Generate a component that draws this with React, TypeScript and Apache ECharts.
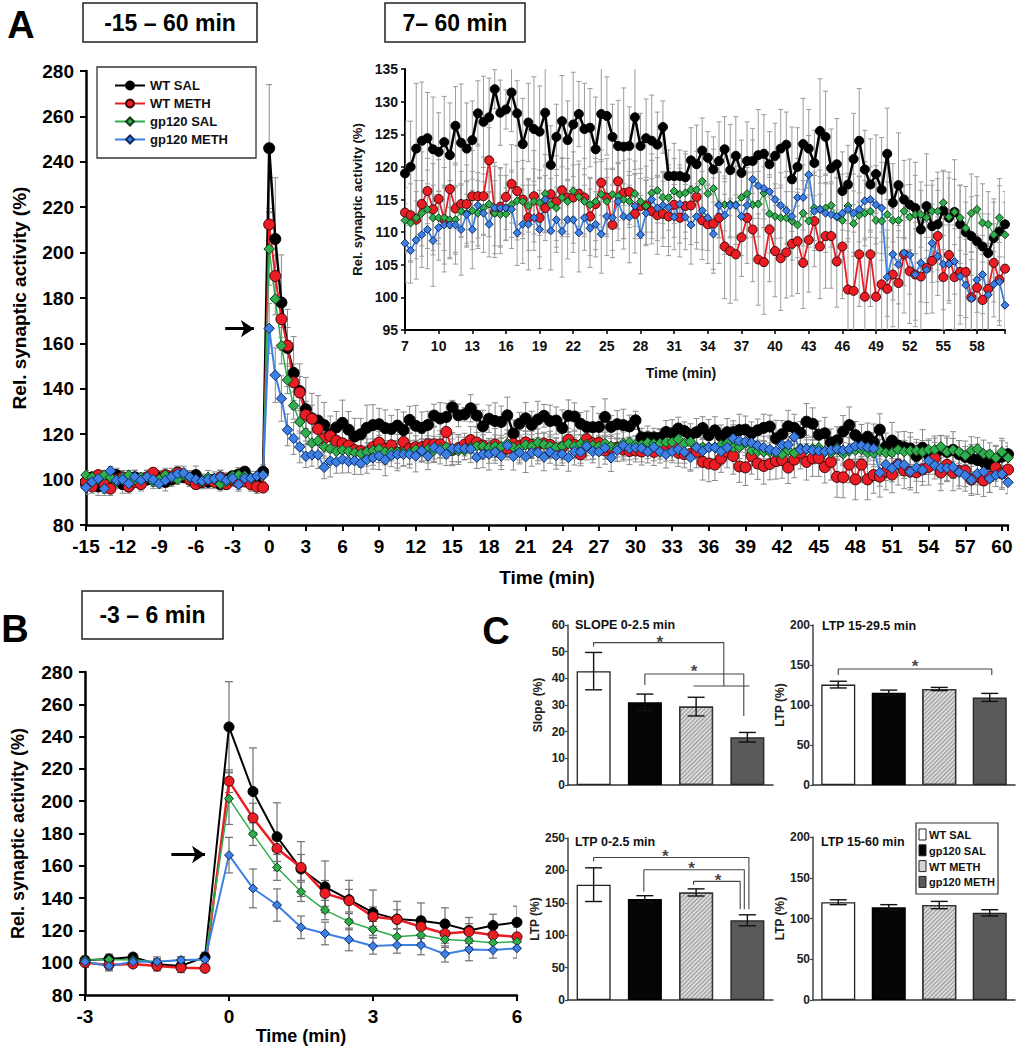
import React, { useEffect, useRef } from 'react';
import * as echarts from 'echarts';

const FONT = "'Liberation Sans', Arial, Helvetica, sans-serif";

// sampling grid: every 0.5 min from -15 to 60.5
const TIMES = Array.from({ length: 152 }, (_, i) => -15 + i * 0.5);

const GROUPS = ['WT SAL', 'WT METH', 'gp120 SAL', 'gp120 METH'];

const WT_SAL = [
  98, 101, 97, 99, 100, 102, 98, 97, 101, 99,
  100, 102, 101, 99, 100, 103, 101, 100, 102, 99,
  99, 100, 98, 100, 101.5, 102.3, 103.5, 99, 98, 103.5,
  246, 206, 178, 158, 147, 139, 131, 127, 126, 124,
  120, 123, 125, 122, 119, 120, 122.8, 124, 124.4, 122.7,
  122.3, 123.8, 121.8, 126.3, 123.7, 122.8, 124.1, 128.2, 126.9, 127.6,
  131.9, 128.3, 128.8, 131.4, 128.2, 123.5, 126.8, 125.8, 125.4, 128.3,
  120.3, 124.6, 127, 124.1, 126.5, 128.1, 125.8, 126, 122.7, 128.1,
  127.8, 124.6, 123.2, 123.1, 123.2, 127.6, 123.2, 124.4, 124, 123.4,
  126.1, 118.6, 118.6, 118.6, 118.4, 121, 120.4, 122.5, 121.4, 119.6,
  120.9, 122.7, 119.5, 121.7, 119.1, 120.9, 120.9, 121.8, 122, 120.4,
  121.7, 122.8, 123.4, 118.1, 120, 123.5, 122.8, 120.6, 125.5, 124.6,
  119.8, 120.4, 116.3, 117.3, 121.2, 124, 119.6, 117.3, 118.9, 116.5,
  122, 114.5, 117.2, 115, 114.2, 113.7, 110.4, 114, 110.9, 111.2,
  113.3, 112.2, 113.1, 111.2, 110, 109.4, 108.6, 107.8, 106.8, 109.1,
  110.1, 111.2,
];
const WT_METH = [
  99, 97, 102, 98, 96, 100, 101, 97, 99, 98,
  101, 103, 100, 102, 101, 103, 102, 100, 98, 99,
  100, 99, 101, 98, 100, 98.6, 99.2, 97.9, 96.9, 96.5,
  212.4, 189.7, 170.7, 159, 142.9, 138.4, 128.5, 126.8, 122.3, 118.1,
  119.2, 117.1, 116, 115, 113, 112.6, 111.9, 114.3, 116.3, 113.5,
  115.1, 111.9, 116.6, 113.6, 114.3, 114.3, 115.5, 115.5, 115.5, 121,
  113.1, 113.9, 115.4, 117.4, 116.3, 115, 112.2, 115.5, 112.2, 113.7,
  115.8, 114.7, 116.4, 115.3, 115.3, 115.9, 115.3, 112.4, 114.3, 117.6,
  115.3, 111.1, 117.8, 116, 116.2, 112.8, 114, 114.1, 113.2, 112.6,
  112.8, 112.4, 114.2, 112.2, 114, 114.1, 115.4, 111.8, 111.2, 111.3,
  112.2, 107.8, 107.1, 106.6, 109.2, 112.2, 110.4, 105.8, 105.4, 110.4,
  107.1, 106, 106.9, 108.2, 108.6, 105.3, 108.8, 111.7, 107.8, 109.4,
  109.4, 105.5, 107.8, 101.2, 101, 106.6, 100.1, 106.6, 100.1, 102,
  101.3, 103.5, 102.2, 106.6, 104, 103.5, 103.2, 104.5, 105.6, 109.4,
  103.1, 106.5, 103.1, 103.9, 103.9, 100, 101.5, 99.6, 101.3, 105.3,
  102.7, 104.4,
];
const GP120_SAL = [
  102, 101, 100, 102, 101, 99, 101, 102, 100, 101,
  101, 99, 100, 102, 101, 100, 102, 101, 100, 99,
  101, 100, 98, 99, 101.6, 102, 101.6, 100.6, 101.6, 102,
  201.6, 179.6, 159, 143.9, 132.6, 125.4, 120.6, 116.1, 117.1, 114.4,
  113.6, 112.4, 113, 112.5, 111.8, 111.4, 112.2, 112.9, 113.5, 112.2,
  112.2, 112.2, 111.9, 111.9, 113.2, 112.9, 113.3, 112.9, 113.7, 114.3,
  112.9, 112.7, 112.8, 114.2, 114.8, 114.7, 114, 114.7, 114.5, 115.9,
  114.2, 113.7, 115.3, 114.7, 116.3, 115.4, 114.7, 114.2, 114.7, 115.8,
  114.7, 115.8, 115.5, 115, 114.7, 115.9, 114.7, 114, 116, 116.4,
  115.3, 115.3, 116.3, 115.8, 116, 116.5, 116.5, 117.8, 115.9, 116.7,
  114.2, 114.2, 114.3, 114.2, 115.3, 115.9, 114.2, 114.3, 116, 112.8,
  112.4, 112.2, 112.2, 111.7, 111.1, 112.9, 111.7, 113.7, 113.5, 113.7,
  114.1, 112.3, 111.8, 114, 111.3, 112.6, 112.9, 113.2, 111.8, 111.7,
  112.7, 111.8, 111.8, 113.2, 112.3, 112.7, 112.7, 112.2, 113.2, 113.2,
  114.5, 112.3, 113.1, 112.2, 110.6, 112.9, 113.5, 111.4, 111.2, 109.6,
  112.2, 109.6,
];
const GP120_METH = [
  96.5, 99, 100.4, 96, 103.8, 99.7, 100, 98.2, 101.2, 99.7,
  101.2, 100, 98.2, 99.7, 101.2, 102.6, 102.9, 101.2, 100, 99.4,
  100, 100.4, 101.2, 99.7, 100.6, 97.9, 100.6, 100.6, 101.6, 102,
  166.6, 146, 135.7, 121.9, 118.1, 114.4, 110.3, 110.9, 110.9, 105.4,
  108.2, 107.8, 108.9, 108, 108.3, 107.2, 108.8, 109.6, 110.4, 108.7,
  110.7, 111.1, 111.1, 111.1, 110.4, 112.7, 110.4, 114.1, 112.9, 111.2,
  113.7, 113.7, 113.7, 113.5, 109.9, 111.2, 111.2, 112.2, 110.4, 115,
  110.2, 111.9, 110.1, 111.9, 111.9, 109.9, 112.2, 110.6, 111.2, 109.7,
  112.4, 112.2, 114.7, 112.4, 112.3, 114, 109.6, 112.9, 115, 113.7,
  114.1, 113.8, 112.3, 114.3, 112.3, 111.1, 112.4, 113.3, 112.2, 109.7,
  114.1, 112.6, 114.1, 114.1, 112.4, 114.1, 118.1, 117.1, 116.7, 116.2,
  115, 114.1, 113.3, 112.4, 115.3, 115.3, 118.8, 113.2, 113.5, 112.9,
  112.7, 112.4, 112.9, 113.5, 112.9, 113.5, 114.8, 115, 114.2, 113.7,
  103.1, 106.6, 105, 106.8, 106.5, 103.5, 105.3, 104.2, 108.3, 106.3,
  105.1, 105.1, 105.5, 103.2, 101.9, 99.8, 102.7, 103.5, 100.4, 102,
  102.4, 98.8,
];

const WT_SAL_SEM = [
  3, 2, 4, 3, 2, 3, 4, 2, 3, 3,
  2, 3, 3, 4, 2, 3, 2, 3, 4, 3,
  3, 2, 3, 3, 2, 3, 2, 3, 3, 3,
  28, 27, 21, 17, 16, 12, 14, 11, 11, 10,
  8, 7, 10, 8, 8, 7, 10, 9, 7, 8,
  6, 7, 8, 6, 9, 7, 6, 5, 7, 6,
  3, 5, 3, 6, 5, 7, 6, 8, 7, 8,
  6, 5, 7, 6, 8, 5, 7, 6, 8, 7,
  6, 5, 7, 9, 6, 8, 5, 6, 7, 5,
  4, 4, 5, 4, 4, 5, 6, 5, 4, 5,
  6, 5, 7, 6, 5, 6, 5, 7, 6, 5,
  5, 6, 5, 8, 6, 7, 6, 5, 8, 7,
  6, 7, 6, 6, 7, 8, 6, 7, 6, 8,
  7, 6, 8, 6, 7, 7, 6, 8, 7, 7,
  6, 7, 8, 6, 7, 6, 7, 5, 6, 6,
  7, 5,
];
const WT_METH_SEM = [
  3, 3, 2, 4, 3, 2, 3, 3, 2, 3,
  3, 2, 3, 3, 4, 2, 3, 3, 2, 3,
  2, 3, 3, 2, 3, 3, 2, 3, 3, 2,
  7, 9, 8, 8, 8, 7, 6, 6, 6, 6,
  5, 5, 6, 5, 6, 7, 6, 8, 5, 7,
  6, 8, 6, 7, 5, 6, 7, 8, 6, 5,
  7, 6, 5, 6, 7, 6, 5, 7, 6, 5,
  6, 7, 5, 6, 7, 5, 6, 6, 7, 5,
  6, 5, 6, 7, 5, 6, 5, 6, 5, 6,
  5, 6, 5, 6, 5, 6, 7, 6, 6, 7,
  7, 8, 8, 7, 6, 7, 8, 7, 8, 8,
  7, 8, 7, 8, 8, 7, 8, 7, 8, 8,
  8, 7, 8, 9, 9, 8, 9, 8, 9, 8,
  9, 8, 8, 9, 8, 8, 9, 7, 8, 7,
  8, 7, 8, 8, 7, 7, 8, 7, 7, 6,
  7, 6,
];
const GP120_SAL_SEM = [
  2, 2, 3, 2, 2, 3, 2, 2, 3, 2,
  2, 3, 2, 2, 3, 2, 2, 3, 2, 2,
  3, 2, 2, 3, 2, 2, 3, 2, 2, 3,
  16, 7, 8, 6, 6, 5, 5, 5, 5, 5,
  4, 4, 5, 4, 5, 6, 4, 5, 6, 5,
  4, 5, 6, 5, 4, 5, 6, 5, 4, 5,
  5, 6, 4, 5, 6, 5, 4, 5, 5, 6,
  4, 5, 6, 5, 4, 5, 5, 4, 6, 5,
  5, 4, 5, 6, 4, 5, 5, 4, 6, 5,
  4, 5, 5, 4, 6, 5, 4, 5, 5, 6,
  5, 4, 5, 5, 6, 4, 5, 5, 4, 6,
  5, 5, 4, 6, 5, 5, 4, 5, 6, 5,
  5, 6, 4, 5, 5, 6, 5, 4, 5, 6,
  5, 5, 6, 4, 5, 6, 5, 5, 4, 6,
  5, 6, 5, 5, 4, 6, 5, 6, 5, 5,
  6, 5,
];
const GP120_METH_SEM = [
  3, 2, 3, 3, 2, 3, 2, 3, 3, 2,
  3, 3, 2, 3, 2, 3, 3, 2, 3, 3,
  2, 3, 3, 2, 3, 3, 2, 3, 2, 3,
  11, 12, 10, 7, 7, 7, 5, 5, 6, 5,
  7, 5, 6, 5, 6, 5, 6, 5, 6, 7,
  5, 6, 5, 6, 7, 5, 6, 5, 6, 5,
  7, 6, 5, 6, 5, 6, 7, 5, 6, 5,
  6, 5, 7, 6, 5, 6, 5, 6, 5, 6,
  6, 5, 6, 5, 7, 5, 6, 5, 6, 5,
  5, 6, 5, 6, 5, 6, 5, 6, 5, 6,
  5, 6, 5, 6, 6, 5, 6, 5, 6, 5,
  6, 5, 6, 5, 6, 5, 6, 6, 5, 6,
  5, 6, 6, 5, 6, 5, 6, 5, 6, 7,
  6, 7, 6, 5, 6, 7, 6, 5, 6, 6,
  7, 6, 5, 6, 7, 6, 5, 6, 6, 5,
  6, 5,
];

const MEANS = [WT_SAL, WT_METH, GP120_SAL, GP120_METH];
const SEMS = [WT_SAL_SEM, WT_METH_SEM, GP120_SAL_SEM, GP120_METH_SEM];

// Panel C (bar order: WT SAL, gp120 SAL, WT METH, gp120 METH)
const BAR_GROUPS = ['WT SAL', 'gp120 SAL', 'WT METH', 'gp120 METH'];
const SLOPE_0_25 = [42.7, 31, 29.4, 17.9];
const SLOPE_0_25_SEM = [7, 3.1, 3.5, 1.8];
const LTP_15_295 = [125.5, 115.4, 120, 109.5];
const LTP_15_295_SEM = [4.2, 3.2, 2, 5];
const LTP_0_25 = [178, 156, 166, 123];
const LTP_0_25_SEM = [26, 5, 5.5, 8.5];
const LTP_15_60 = [120, 113.7, 116.5, 107];
const LTP_15_60_SEM = [3, 3.3, 4.5, 3.8];

const SLOPE_BRACKETS = [
  [[0, 51.9], [0, 53.4], [2.54, 53.4], [2.54, 37.1]],
  [[1.95, 37.1], [3.04, 37.1]],
  [[1, 37.5], [1, 41.6], [2.93, 41.6], [2.93, 25.9]],
];
const SLOPE_STARS = [[1.29, 54.6], [1.96, 43.6]];
const LTP_15_295_BRACKETS = [[[0, 137.5], [0, 145], [3.04, 145], [3.04, 137.5]]];
const LTP_15_295_STARS = [[1.52, 152]];
const LTP_0_25_BRACKETS = [
  [[0, 214], [0, 220], [3.03, 220], [3.03, 140]],
  [[0.98, 167.5], [0.98, 201], [2.94, 201], [2.94, 140]],
  [[1.95, 177.8], [1.95, 183], [2.86, 183], [2.86, 140]],
];
const LTP_0_25_STARS = [[1.4, 226], [1.91, 208], [2.43, 188.5]];

const STYLE: any = {
  'WT SAL': { color: '#000000', border: '#000000', symbol: 'circle' },
  'WT METH': { color: '#ec1c24', border: '#3a0808', symbol: 'circle' },
  'gp120 SAL': { color: '#2fae4e', border: '#143a1c', symbol: 'diamond' },
  'gp120 METH': { color: '#3d80e3', border: '#0c2a66', symbol: 'diamond' },
};

const PANELS = [
  {
    grid: 0, keep: (t: number) => true,
    size: { circle: 11, diamond: 10.5 }, lw: [2.5, 2, 1.5, 2],
    err: { color: '#8a8a8a', cap: 6, lw: 1 },
    arrow: [[-3.6, 166.5], [-1.25, 166.5]],
  },
  {
    grid: 1, keep: (t: number) => t >= 7,
    size: { circle: 9, diamond: 8 }, lw: [2.5, 1.8, 1.3, 1.8],
    err: { color: '#9c9c9c', cap: 5, lw: 1 },
    arrow: null,
  },
  {
    grid: 2, keep: (t: number) => t >= -3 && t <= 6,
    size: { circle: 10, diamond: 9 }, lw: [2, 2.5, 1.5, 2],
    err: { color: '#707070', cap: 8, lw: 1.2 },
    arrow: [[-1.2, 167], [-0.5, 167]],
  },
];

function errorRender(color: string, cap: number, lw: number) {
  return (params: any, api: any) => {
    const x = api.value(0);
    const lo = api.coord([x, api.value(1)]);
    const hi = api.coord([x, api.value(2)]);
    const h = cap / 2;
    const style = { stroke: color, lineWidth: lw, fill: 'none' };
    return {
      type: 'group',
      children: [
        { type: 'line', shape: { x1: hi[0], y1: hi[1], x2: lo[0], y2: lo[1] }, style },
        { type: 'line', shape: { x1: hi[0] - h, y1: hi[1], x2: hi[0] + h, y2: hi[1] }, style },
        { type: 'line', shape: { x1: lo[0] - h, y1: lo[1], x2: lo[0] + h, y2: lo[1] }, style },
      ],
    };
  };
}

function timeSeries(): any[] {
  const out: any[] = [];
  PANELS.forEach((p) => {
    const idx = TIMES.map((t, i) => i).filter((i) => p.keep(TIMES[i]));
    GROUPS.forEach((g, k) => {
      out.push({
        type: 'custom',
        name: g + ' SEM',
        xAxisIndex: p.grid,
        yAxisIndex: p.grid,
        silent: true,
        clip: true,
        z: 1,
        renderItem: errorRender(p.err.color, p.err.cap, p.err.lw),
        encode: { x: 0, y: [1, 2] },
        data: idx.map((i) => [TIMES[i], MEANS[k][i] - SEMS[k][i], MEANS[k][i] + SEMS[k][i]]),
      });
    });
    GROUPS.forEach((g, k) => {
      const st = STYLE[g];
      const s: any = {
        type: 'line',
        name: g,
        xAxisIndex: p.grid,
        yAxisIndex: p.grid,
        clip: true,
        z: 2,
        symbol: st.symbol,
        symbolSize: p.size[st.symbol as 'circle' | 'diamond'],
        lineStyle: { color: st.color, width: p.lw[k] },
        itemStyle: { color: st.color, borderColor: st.border, borderWidth: 1 },
        emphasis: { disabled: true },
        data: idx.map((i) => [TIMES[i], MEANS[k][i]]),
      };
      if (p.arrow && g === 'gp120 METH') {
        s.markLine = {
          silent: true,
          symbol: ['none', 'arrow'],
          symbolSize: 13,
          lineStyle: { color: '#000', width: 3, type: 'solid' },
          label: { show: false },
          data: [[{ coord: p.arrow[0] }, { coord: p.arrow[1] }]],
        };
      }
      out.push(s);
    });
  });
  return out;
}

const BAR_STYLES: any[] = [
  { color: '#ffffff', borderColor: '#222', borderWidth: 1.3 },
  { color: '#050505', borderColor: '#000', borderWidth: 1.3 },
  {
    color: '#dadada', borderColor: '#333', borderWidth: 1.3,
    decal: { symbol: 'rect', symbolSize: 1, color: 'rgba(95,95,95,0.55)', dashArrayX: [1, 0], dashArrayY: [1, 2], rotation: -Math.PI / 4 },
  },
  { color: '#5a5a5a', borderColor: '#222', borderWidth: 1.3 },
];

const C_PANELS = [
  { grid: 3, values: SLOPE_0_25, sem: SLOPE_0_25_SEM, brackets: SLOPE_BRACKETS, stars: SLOPE_STARS, max: 60, interval: 10, name: 'Slope (%)', gap: 24 },
  { grid: 4, values: LTP_15_295, sem: LTP_15_295_SEM, brackets: LTP_15_295_BRACKETS, stars: LTP_15_295_STARS, max: 200, interval: 50, name: 'LTP (%)', gap: 26 },
  { grid: 5, values: LTP_0_25, sem: LTP_0_25_SEM, brackets: LTP_0_25_BRACKETS, stars: LTP_0_25_STARS, max: 250, interval: 50, name: 'LTP (%)', gap: 26 },
  { grid: 6, values: LTP_15_60, sem: LTP_15_60_SEM, brackets: [], stars: [], max: 200, interval: 50, name: 'LTP (%)', gap: 26 },
];

function barSeries(): any[] {
  const out: any[] = [];
  C_PANELS.forEach((c) => {
    out.push({
      type: 'bar',
      name: 'bars' + c.grid,
      xAxisIndex: c.grid,
      yAxisIndex: c.grid,
      barWidth: 34,
      silent: true,
      data: c.values.map((v, i) => ({ value: [i, v], name: BAR_GROUPS[i], itemStyle: BAR_STYLES[i] })),
    });
    out.push({
      type: 'custom',
      name: 'barsem' + c.grid,
      xAxisIndex: c.grid,
      yAxisIndex: c.grid,
      silent: true,
      z: 3,
      renderItem: errorRender('#111', 17, 1.4),
      encode: { x: 0, y: [1, 2] },
      data: c.values.map((v, i) => [i, v - c.sem[i], v + c.sem[i]]),
    });
    c.brackets.forEach((b, j) => {
      out.push({
        type: 'line',
        name: 'bracket' + c.grid + '_' + j,
        xAxisIndex: c.grid,
        yAxisIndex: c.grid,
        silent: true,
        symbol: 'none',
        z: 4,
        lineStyle: { color: '#444', width: 1.1 },
        data: b,
      });
    });
    if (c.stars.length) {
      out.push({
        type: 'scatter',
        name: 'stars' + c.grid,
        xAxisIndex: c.grid,
        yAxisIndex: c.grid,
        silent: true,
        symbolSize: 1,
        itemStyle: { color: 'rgba(0,0,0,0)' },
        z: 5,
        label: {
          show: true, formatter: '*', position: 'inside', offset: [0, 3],
          fontSize: 17, lineHeight: 9, fontWeight: 'bold', fontFamily: FONT, color: '#111',
        },
        data: c.stars,
      });
    }
  });
  return out;
}

const bold = (size: number) => ({ fontSize: size, fontWeight: 'bold' as const, fontFamily: FONT, color: '#000' });

function buildOption(): any {
  const axisLine = (w: number, color = '#000') => ({ show: true, onZero: false, lineStyle: { color, width: w } });
  const tick = (len: number, w: number, color = '#000') => ({ show: true, length: len, lineStyle: { color, width: w } });

  const xAxis: any[] = [
    {
      type: 'value', gridIndex: 0, min: -15, max: 60.5, interval: 3,
      axisLine: axisLine(2.5), axisTick: tick(6, 2), splitLine: { show: false },
      axisLabel: { ...bold(19), margin: 12, formatter: (v: number) => (Math.abs(v % 3) < 1e-6 ? String(v) : '') },
      name: 'Time (min)', nameLocation: 'middle', nameGap: 43, nameTextStyle: bold(19),
    },
    {
      type: 'value', gridIndex: 1, min: 7, max: 60.5, interval: 3,
      axisLine: axisLine(2), axisTick: tick(4, 1.5), splitLine: { show: false },
      axisLabel: { ...bold(14), color: '#111', margin: 9, formatter: (v: number) => (Math.abs((v - 7) % 3) < 1e-6 ? String(v) : '') },
      name: 'Time (min)', nameLocation: 'middle', nameGap: 36,
      nameTextStyle: { ...bold(14), color: '#111', padding: [0, 48, 0, 0] },
    },
    {
      type: 'value', gridIndex: 2, min: -3, max: 6, interval: 3,
      axisLine: axisLine(2.5), axisTick: tick(6, 2), splitLine: { show: false },
      axisLabel: { ...bold(19), margin: 12 },
      name: 'Time (min)', nameLocation: 'middle', nameGap: 32, nameTextStyle: bold(18),
    },
  ];
  const yAxis: any[] = [
    {
      type: 'value', gridIndex: 0, min: 80, max: 280, interval: 20,
      axisLine: axisLine(2.5), axisTick: tick(6, 2), splitLine: { show: false },
      axisLabel: { ...bold(19), margin: 12 },
      name: 'Rel. synaptic activity (%)', nameLocation: 'middle', nameGap: 57, nameTextStyle: bold(19),
    },
    {
      type: 'value', gridIndex: 1, min: 95, max: 135, interval: 5,
      axisLine: axisLine(2), axisTick: tick(4, 1.5), splitLine: { show: false },
      axisLabel: { ...bold(14), color: '#111', margin: 7 },
      name: 'Rel. synaptic activity (%)', nameLocation: 'middle', nameGap: 40,
      nameTextStyle: { ...bold(13), color: '#111' },
    },
    {
      type: 'value', gridIndex: 2, min: 80, max: 280, interval: 20,
      axisLine: axisLine(2.5), axisTick: tick(6, 2), splitLine: { show: false },
      axisLabel: { ...bold(19), margin: 12 },
      name: 'Rel. synaptic activity (%)', nameLocation: 'middle', nameGap: 58, nameTextStyle: bold(18),
    },
  ];
  C_PANELS.forEach((c) => {
    xAxis.push({
      type: 'value', gridIndex: c.grid, min: -0.5, max: 3.5,
      axisLine: axisLine(1.5, '#333'), axisTick: { show: false }, axisLabel: { show: false }, splitLine: { show: false },
    });
    yAxis.push({
      type: 'value', gridIndex: c.grid, min: 0, max: c.max, interval: c.interval,
      axisLine: axisLine(1.5, '#444'), axisTick: tick(3, 1.2, '#444'), splitLine: { show: false },
      axisLabel: { ...bold(12), color: '#222', margin: 3 },
      name: c.name, nameLocation: 'middle', nameGap: c.gap, nameTextStyle: { ...bold(12), color: '#222' },
    });
  });

  const boxText = (x: number, y: number, w: number, h: number, text: string, size: number) => ({
    type: 'group', z: 100,
    children: [
      { type: 'rect', shape: { x, y, width: w, height: h }, style: { fill: '#fff', stroke: '#222', lineWidth: 1.5 } },
      { type: 'text', x: x + w / 2, y: y + h / 2, style: { text, ...bold(size), fill: '#000', align: 'center', verticalAlign: 'middle' } },
    ],
  });
  const letter = (x: number, y: number, t: string) => ({
    type: 'text', x, y, z: 100,
    style: { text: t, fontSize: 38, fontWeight: 'bold', fontFamily: FONT, fill: '#000', align: 'center', verticalAlign: 'middle' },
  });
  const cTitle = (x: number, y: number, t: string) => ({
    type: 'text', x, y, z: 100,
    style: { text: t, fontSize: 12.5, fontWeight: 'bold', fontFamily: FONT, fill: '#111', align: 'left', verticalAlign: 'middle' },
  });
  const legendFills = ['#ffffff', '#050505', '#d4d4d4', '#5a5a5a'];
  const cLegend = {
    type: 'group', z: 100,
    children: [
      { type: 'rect', shape: { x: 916, y: 823, width: 82, height: 71 }, style: { fill: '#fff', stroke: '#333', lineWidth: 1.2 } },
      ...BAR_GROUPS.flatMap((g, i) => [
        { type: 'rect', shape: { x: 919, y: 829 + i * 15.8, width: 7, height: 11 }, style: { fill: legendFills[i], stroke: '#222', lineWidth: 1 } },
        { type: 'text', x: 929, y: 835 + i * 15.8, style: { text: g, fontSize: 11, fontWeight: 'bold', fontFamily: FONT, fill: '#111', align: 'left', verticalAlign: 'middle' } },
      ]),
    ],
  };

  return {
    animation: false,
    backgroundColor: '#ffffff',
    textStyle: { fontFamily: FONT },
    grid: [
      { left: 86, top: 71, width: 922, height: 454 },
      { left: 405, top: 69, width: 600, height: 261 },
      { left: 85, top: 672, width: 432, height: 323 },
      { left: 568, top: 625, width: 205, height: 160 },
      { left: 813, top: 625, width: 202, height: 160 },
      { left: 568, top: 838, width: 205, height: 162 },
      { left: 813, top: 837, width: 202, height: 163 },
    ],
    xAxis,
    yAxis,
    legend: {
      data: GROUPS,
      orient: 'vertical',
      left: 97,
      top: 67,
      padding: [12, 28, 12, 17],
      itemGap: 5,
      itemWidth: 30,
      itemHeight: 10,
      itemTextGap: 6,
      borderColor: '#333',
      borderWidth: 1.3,
      backgroundColor: '#fff',
      selectedMode: false,
      textStyle: { ...bold(13), color: '#111' },
    },
    graphic: [
      letter(21, 25, 'A'),
      letter(15, 629, 'B'),
      letter(496, 631, 'C'),
      boxText(83, 3, 174, 39, '-15 – 60 min', 23),
      boxText(385, 3, 140, 39, '7– 60 min', 23),
      boxText(82, 591, 141, 48, '-3 – 6 min', 23),
      cTitle(575, 625, 'SLOPE 0-2.5 min'),
      cTitle(822, 626, 'LTP 15-29.5 min'),
      cTitle(575, 842, 'LTP 0-2.5 min'),
      cTitle(821, 842, 'LTP 15-60 min'),
      cLegend,
    ],
    series: [...timeSeries(), ...barSeries()],
  };
}

export default function App() {
  const ref = useRef<HTMLDivElement>(null);
  useEffect(() => {
    if (!ref.current) return;
    const chart = echarts.init(ref.current, undefined, { renderer: 'svg' });
    chart.setOption(buildOption());
    return () => chart.dispose();
  }, []);
  return (
    <div
      ref={ref}
      style={{ position: 'absolute', left: 0, top: 0, width: 1020, height: 1050, background: '#fff' }}
    />
  );
}
